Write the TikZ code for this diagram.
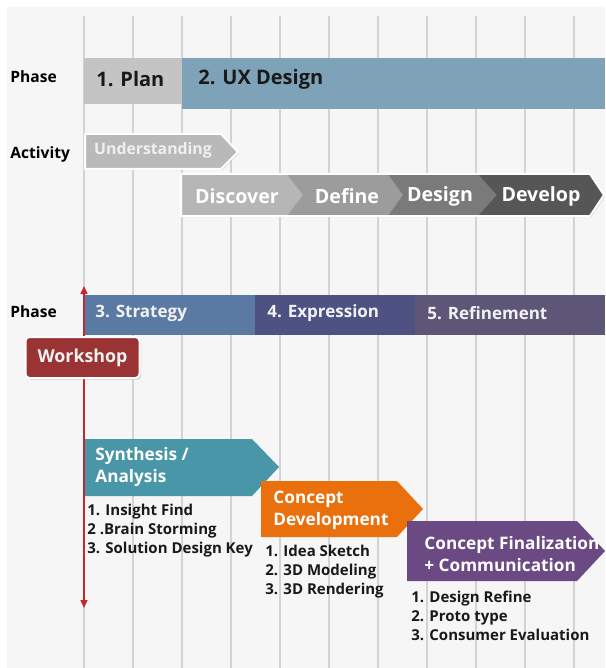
\documentclass[tikz,border=0pt]{standalone}
\usepackage{fontspec}
\setmainfont{Open Sans}
\usetikzlibrary{arrows.meta,shadows}
\definecolor{paperbg}{HTML}{F6F6F6}
\definecolor{gridgray}{HTML}{D3D3D3}
\definecolor{plangray}{HTML}{C4C4C4}
\definecolor{uxblue}{HTML}{7EA2B7}
\definecolor{undgray}{HTML}{B9B9B9}
\definecolor{discgray}{HTML}{B6B6B6}
\definecolor{defgray}{HTML}{9C9C9C}
\definecolor{desgray}{HTML}{7A7A7A}
\definecolor{devgray}{HTML}{565656}
\definecolor{strblue}{HTML}{5B7AA3}
\definecolor{expblue}{HTML}{4D5283}
\definecolor{refpurple}{HTML}{5E5677}
\definecolor{wsred}{HTML}{9A3333}
\definecolor{arrowred}{HTML}{C8262E}
\definecolor{synteal}{HTML}{4A96A9}
\definecolor{conorange}{HTML}{EA700E}
\definecolor{finpurple}{HTML}{6B4A83}

\begin{document}
\begin{tikzpicture}[x=0.5pt,y=-0.5pt,
	gridline/.style={draw=gridgray,line width=0.75pt},
	rowlabel/.style={anchor=west,inner sep=0,font=\fontsize{7.8}{9}\selectfont\bfseries},
	phasetext/.style={anchor=west,inner sep=0,font=\fontsize{10}{12}\selectfont\bfseries,text=black!90},
	actext/.style={inner sep=0,font=\fontsize{9.8}{12}\selectfont\bfseries,text=white},
	bartext/.style={anchor=west,inner sep=0,font=\fontsize{8.5}{10}\selectfont\bfseries,text=white!95!black},
	stagetext/.style={anchor=west,inner sep=0,align=left,font=\fontsize{8.6}{11}\selectfont\bfseries,text=white},
	tasklist/.style={anchor=west,inner sep=0,align=left,font=\fontsize{7.5}{9.5}\selectfont\bfseries,text=black!90},
	softshadow/.style={drop shadow={opacity=0.25,shadow xshift=0.6pt,shadow yshift=-0.6pt}}]
	\useasboundingbox (0,0) rectangle (605,668);
	\fill[paperbg] (7,7) rectangle (605,668);
	\foreach \gx in {84,133,...,574}
		\draw[gridline] (\gx,16) -- (\gx,668);

	\node[rowlabel] (phaseA) at (10,77) {Phase};
	\fill[plangray] (84,58) rectangle (182,104);
	\fill[uxblue] (182,58) rectangle (605,109);
	\node[phasetext] (plan) at (96,79) {1. Plan};
	\node[phasetext] (uxdesign) at (198,79) {2. UX Design};

	\node[rowlabel] (activity) at (10,154) {Activity};
	\path[fill=undgray,draw=white,line width=1pt,softshadow] (85,134) -- (221,134) -- (238,152) -- (221,169) -- (85,169) -- cycle;
	\node[actext,font=\fontsize{7.9}{9}\selectfont\bfseries,text=white!94!black] (understanding) at (153,150) {Understanding};

	\path[fill=discgray,softshadow] (181,174) -- (590,174) -- (604,195) -- (590,216) -- (181,216) -- cycle;
	\fill[defgray] (287,174) -- (590,174) -- (604,195) -- (590,216) -- (287,216) -- (303,195) -- cycle;
	\fill[desgray] (388,174) -- (590,174) -- (604,195) -- (590,216) -- (388,216) -- (403,195) -- cycle;
	\fill[devgray] (478,174) -- (590,174) -- (604,195) -- (590,216) -- (478,216) -- (497,195) -- cycle;
	\draw[white,line width=1pt] (181,174) -- (590,174) -- (604,195) -- (590,216) -- (181,216) -- cycle;
	\node[actext] (discover) at (237,196) {Discover};
	\node[actext] (define) at (347,196) {Define};
	\node[actext] (design) at (440,196) {Design};
	\node[actext] (develop) at (541,196) {Develop};

	\node[rowlabel] (phaseB) at (10,312) {Phase};
	\fill[strblue] (83,295) rectangle (255,335);
	\fill[expblue] (255,295) rectangle (415,335);
	\fill[refpurple] (415,295) rectangle (605,335);
	\node[bartext] (strategy) at (95,313) {3. Strategy};
	\node[bartext] (expression) at (267,313) {4. Expression};
	\node[bartext] (refinement) at (427,313) {5. Refinement};

	\fill[synteal] (84,439) -- (252,439) -- (279,467) -- (252,496) -- (84,496) -- cycle;
	\fill[conorange] (261,481) -- (397,481) -- (423,509) -- (397,537) -- (261,537) -- cycle;
	\fill[finpurple] (407,521) -- (577,521) -- (605,551) -- (577,581) -- (407,581) -- cycle;

	\coordinate (wstop) at (84,286);
	\coordinate (wsbot) at (84,608);
	\draw[arrowred,line width=0.75pt,{Triangle[width=3.5pt,length=4pt]}-{Triangle[width=3.5pt,length=4pt]}] (wstop) -- (wsbot);

	\node[draw=white,line width=1pt,fill=wsred,rounded corners=2pt,minimum width=57pt,minimum height=20.5pt,inner sep=0,
		font=\fontsize{8.9}{10}\selectfont\bfseries,text=white!95!black,
		drop shadow={opacity=0.35,shadow xshift=0.8pt,shadow yshift=-0.8pt}] (workshop) at (82.5,357.5) {Workshop};

	\node[stagetext] (synthesis) at (95,467) {Synthesis /\\Analysis};
	\node[stagetext] (concdev) at (273,510) {Concept\\Development};
	\node[stagetext] (concfin) at (424,554) {Concept Finalization\\+ Communication};

	\node[tasklist] (synlist) at (87,531) {1. Insight Find\\2 .Brain Storming\\3. Solution Design Key};
	\node[tasklist] (devlist) at (265,572) {1. Idea Sketch\\2. 3D Modeling\\3. 3D Rendering};
	\node[tasklist] (finlist) at (411,616) {1. Design Refine\\2. Proto type\\3. Consumer Evaluation};
\end{tikzpicture}
\end{document}
